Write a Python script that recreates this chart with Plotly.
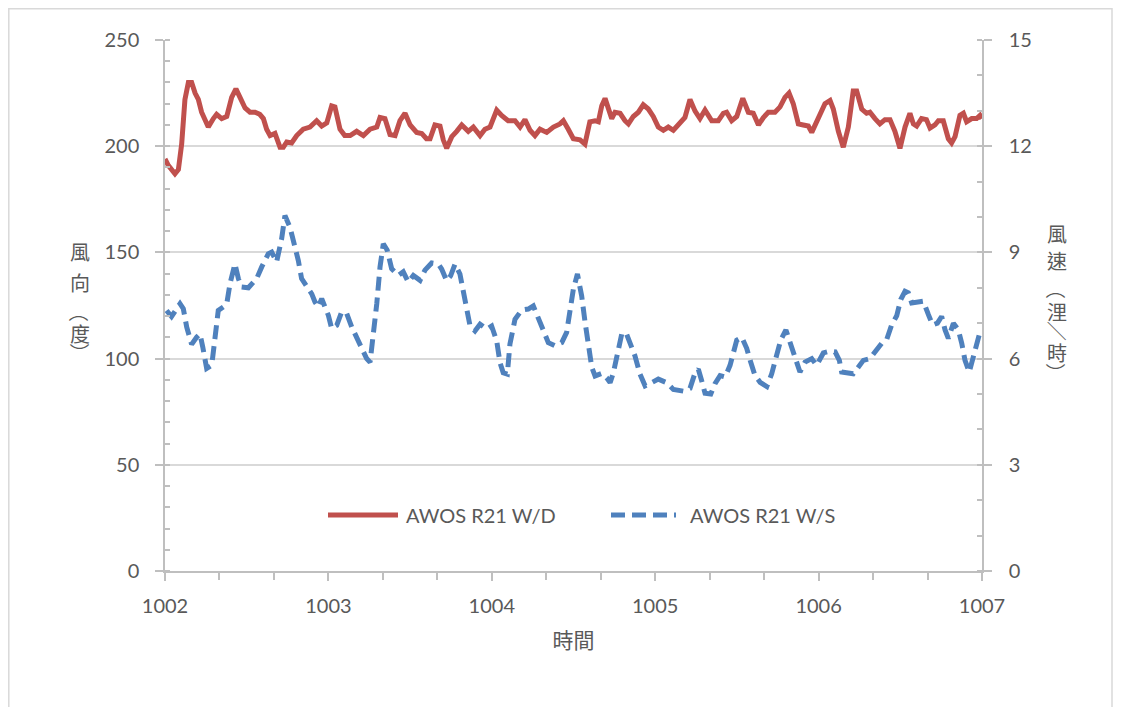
import plotly.graph_objects as go

# 風向 (度) — AWOS R21 W/D, time as days after 1002
wd_t = [0.000, 0.020, 0.061, 0.082, 0.102, 0.122, 0.143, 0.163, 0.184, 0.204,
        0.224, 0.245, 0.265, 0.296, 0.316, 0.347, 0.378, 0.408, 0.434, 0.459,
        0.490, 0.520, 0.551, 0.580, 0.602, 0.622, 0.643, 0.673, 0.704, 0.724,
        0.745, 0.775, 0.806, 0.846, 0.887, 0.928, 0.959, 0.990, 1.020, 1.040,
        1.071, 1.100, 1.133, 1.173, 1.214, 1.255, 1.296, 1.316, 1.346, 1.377,
        1.408, 1.438, 1.469, 1.500, 1.540, 1.571, 1.600, 1.622, 1.652, 1.683,
        1.703, 1.724, 1.755, 1.785, 1.816, 1.856, 1.887, 1.928, 1.958, 1.989,
        2.030, 2.060, 2.100, 2.142, 2.173, 2.203, 2.234, 2.264, 2.295, 2.336,
        2.377, 2.417, 2.438, 2.468, 2.499, 2.540, 2.570, 2.600, 2.632, 2.652,
        2.673, 2.693, 2.713, 2.734, 2.754, 2.785, 2.815, 2.836, 2.866, 2.897,
        2.927, 2.958, 2.988, 3.019, 3.050, 3.080, 3.111, 3.152, 3.182, 3.213,
        3.244, 3.274, 3.305, 3.346, 3.386, 3.417, 3.437, 3.468, 3.499, 3.536,
        3.570, 3.600, 3.632, 3.662, 3.692, 3.733, 3.764, 3.794, 3.819, 3.845,
        3.876, 3.906, 3.937, 3.958, 3.988, 4.009, 4.039, 4.070, 4.090, 4.121,
        4.151, 4.182, 4.212, 4.233, 4.264, 4.294, 4.314, 4.345, 4.375, 4.406,
        4.437, 4.467, 4.498, 4.529, 4.559, 4.580, 4.600, 4.630, 4.660, 4.682,
        4.712, 4.733, 4.763, 4.794, 4.814, 4.835, 4.865, 4.886, 4.906, 4.937,
        4.967, 4.988, 5.000]
wd = [194, 191, 187, 189, 201, 222, 230, 230, 225, 222,
      216, 212, 209, 213, 215, 213, 214, 223, 227, 223,
      218, 216, 216, 215, 213, 208, 205, 206, 199.5, 199.5,
      202, 201.5, 205, 208, 209, 212, 209.5, 211, 219, 218.5,
      208, 205, 205, 207, 205, 208, 209, 213.5, 213, 205.5,
      205, 212, 215.5, 210, 206.5, 206, 203.5, 203.5, 210, 209.5,
      203, 199, 204.5, 207, 210, 207, 209, 205, 208, 209,
      217, 214.5, 212, 212, 209, 212.5, 207.5, 205, 208, 206.5,
      209, 210.5, 212, 208, 203.5, 203, 201, 211.5, 212, 211.5,
      219, 222.5, 217, 213, 216, 215.5, 212, 210.5, 214, 216,
      219.5, 217.5, 214, 209, 207.5, 209, 207.5, 210.5, 213.5, 222,
      216.5, 213, 217, 212, 212, 215.5, 216, 212, 214, 222.5,
      216, 215.5, 210, 213.5, 216, 216, 218.5, 223, 225, 220,
      210.5, 210, 209.5, 206.5, 211.5, 216, 220, 221.5, 217.5, 207,
      199.5, 209, 226, 226, 217.5, 215.5, 216, 213, 210.5, 212.5,
      212.5, 207, 199, 209, 215.5, 210.5, 209.5, 213, 212.5, 208.5,
      210, 212, 212, 203.5, 201.5, 204.5, 214.5, 215.5, 211.5, 213,
      213, 214.5, 213]

# 風速 (浬/時) — AWOS R21 W/S
ws_t = [0.010, 0.040, 0.092, 0.112, 0.133, 0.163, 0.194, 0.214, 0.231, 0.255,
        0.286, 0.306, 0.326, 0.357, 0.378, 0.398, 0.428, 0.449, 0.469, 0.510,
        0.561, 0.592, 0.632, 0.653, 0.683, 0.714, 0.734, 0.765, 0.785, 0.806,
        0.816, 0.836, 0.867, 0.898, 0.918, 0.938, 0.959, 1.000, 1.020, 1.051,
        1.081, 1.112, 1.143, 1.173, 1.204, 1.234, 1.255, 1.275, 1.296, 1.316,
        1.336, 1.360, 1.387, 1.428, 1.458, 1.489, 1.520, 1.561, 1.591, 1.632,
        1.673, 1.693, 1.724, 1.748, 1.775, 1.805, 1.826, 1.846, 1.867, 1.897,
        1.928, 1.969, 1.999, 2.030, 2.050, 2.070, 2.095, 2.111, 2.142, 2.183,
        2.223, 2.254, 2.285, 2.315, 2.346, 2.387, 2.428, 2.458, 2.479, 2.499,
        2.524, 2.550, 2.571, 2.591, 2.612, 2.632, 2.673, 2.703, 2.724, 2.744,
        2.775, 2.795, 2.821, 2.846, 2.876, 2.907, 2.938, 2.978, 3.019, 3.070,
        3.111, 3.172, 3.213, 3.244, 3.264, 3.284, 3.305, 3.340, 3.366, 3.397,
        3.428, 3.458, 3.478, 3.499, 3.530, 3.560, 3.581, 3.611, 3.642, 3.683,
        3.713, 3.744, 3.768, 3.800, 3.825, 3.850, 3.870, 3.886, 3.917, 3.958,
        3.988, 4.029, 4.070, 4.101, 4.127, 4.141, 4.212, 4.243, 4.274, 4.314,
        4.345, 4.386, 4.417, 4.447, 4.478, 4.503, 4.529, 4.549, 4.570, 4.600,
        4.641, 4.672, 4.698, 4.727, 4.753, 4.774, 4.794, 4.825, 4.855, 4.876,
        4.896, 4.922, 4.947, 4.967, 4.988, 5.000]
ws = [7.36, 7.19, 7.55, 7.41, 6.89, 6.40, 6.61, 6.70, 6.33, 5.72,
      5.81, 6.66, 7.36, 7.46, 7.55, 8.12, 8.68, 8.26, 8.02, 8.00,
      8.26, 8.59, 8.96, 9.01, 8.73, 9.39, 10.04, 9.71, 9.39, 9.01,
      8.77, 8.26, 8.02, 7.83, 7.60, 7.46, 7.69, 7.22, 6.85, 6.94,
      7.32, 7.27, 6.89, 6.61, 6.28, 6.00, 5.90, 6.61, 7.55, 8.59,
      9.24, 9.06, 8.54, 8.35, 8.45, 8.16, 8.35, 8.21, 8.50, 8.70,
      8.67, 8.53, 8.20, 8.34, 8.67, 8.39, 7.92, 7.35, 6.92, 6.78,
      6.97, 6.83, 6.92, 6.50, 5.89, 5.60, 5.56, 6.41, 7.11, 7.37,
      7.40, 7.49, 7.16, 6.78, 6.45, 6.36, 6.45, 6.74, 7.44, 7.96,
      8.39, 7.77, 7.02, 6.36, 5.75, 5.51, 5.58, 5.46, 5.32, 5.60,
      6.22, 6.69, 6.74, 6.45, 6.08, 5.56, 5.23, 5.32, 5.42, 5.32,
      5.13, 5.08, 5.16, 5.60, 5.70, 5.38, 5.02, 5.00, 5.29, 5.52,
      5.48, 5.81, 6.14, 6.52, 6.60, 6.29, 5.95, 5.52, 5.33, 5.21,
      5.57, 6.05, 6.52, 6.81, 6.48, 6.10, 5.81, 5.62, 5.90, 6.00,
      5.81, 6.16, 6.21, 6.19, 5.95, 5.62, 5.57, 5.76, 5.95, 6.00,
      6.19, 6.43, 6.54, 6.95, 7.21, 7.67, 7.90, 7.86, 7.57, 7.59,
      7.62, 7.24, 6.95, 7.00, 7.19, 6.81, 6.57, 7.00, 6.81, 6.43,
      5.95, 5.62, 6.05, 6.48, 6.76, 6.81]

START_DAY = 1002
series_names = ["AWOS R21 W/D", "AWOS R21 W/S"]
# vertical titles: (character, rotate 90° like vertical CJK punctuation)
left_title = [("風", False), ("向", False), ("（", True), ("度", False), ("）", True)]
right_title = [("風", False), ("速", False), ("（", True), ("浬", False),
               ("／", True), ("時", False), ("）", True)]

RED = "#C0504D"
BLUE = "#4F81BD"
GRAY_TXT = "#595959"
AXIS_GRAY = "#BFBFBF"
GRID_GRAY = "#D9D9D9"
DASH = "14px,7px"

# page has an 8px body margin, so the figure sits at (8, 8)
OFF = 8
W, H = 1121 - 2 * OFF, 715 - 2 * OFF
PLOT_L, PLOT_R, PLOT_T, PLOT_B = 165, 982, 40, 571   # page pixels
ML, MT = PLOT_L - OFF, PLOT_T - OFF
MR, MB = W - (PLOT_R - OFF), H - (PLOT_B - OFF)
PW, PH = PLOT_R - PLOT_L, PLOT_B - PLOT_T


def px_x(x):
    return (x - PLOT_L) / PW


def px_y(y):
    return (PLOT_B - y) / PH


fig = go.Figure()
fig.add_trace(go.Scatter(
    x=[START_DAY + t for t in wd_t], y=wd, name=series_names[0],
    mode="lines", line=dict(color=RED, width=5), showlegend=False,
))
fig.add_trace(go.Scatter(
    x=[START_DAY + t for t in ws_t], y=ws, name=series_names[1], yaxis="y2",
    mode="lines", line=dict(color=BLUE, width=5, dash=DASH), showlegend=False,
))

# manual legend (long line samples like the Excel original)
fig.add_shape(type="line", xref="paper", yref="paper",
              x0=px_x(328), x1=px_x(398), y0=px_y(515), y1=px_y(515),
              line=dict(color=RED, width=5))
fig.add_shape(type="line", xref="paper", yref="paper",
              x0=px_x(611), x1=px_x(676), y0=px_y(515), y1=px_y(515),
              line=dict(color=BLUE, width=5, dash=DASH))
for name, x0 in zip(series_names, [404, 688]):
    fig.add_annotation(text=name, xref="paper", yref="paper", x=px_x(x0), y=px_y(515),
                       xanchor="left", yanchor="middle", showarrow=False,
                       font=dict(family="Lato", size=20, color=GRAY_TXT))

# vertical CJK axis titles
cjk = dict(family="Noto Sans CJK TC", size=20, color=GRAY_TXT)
for (ch, rot), y in zip(left_title, [252, 282, 312, 333, 353]):
    fig.add_annotation(text=ch, xref="paper", yref="paper", x=px_x(80), y=px_y(y),
                       xanchor="center", yanchor="middle", showarrow=False, font=cjk,
                       borderpad=0, textangle=90 if rot else 0)
for (ch, rot), y in zip(right_title, [233, 260, 289, 311, 331, 352, 373]):
    fig.add_annotation(text=ch, xref="paper", yref="paper", x=px_x(1057), y=px_y(y),
                       xanchor="center", yanchor="middle", showarrow=False, font=cjk,
                       borderpad=0, textangle=90 if rot else 0)

# chart-area border (figure edge is at page (8, 8))
fig.add_shape(type="rect", xref="paper", yref="paper", layer="below",
              x0=px_x(8.8), x1=px_x(1112), y0=px_y(730), y1=px_y(8.8),
              line=dict(color=GRID_GRAY, width=1.5))

fig.update_layout(
    width=W, height=H, autosize=False,
    margin=dict(l=ML, r=MR, t=MT, b=MB, pad=0),
    paper_bgcolor="white", plot_bgcolor="white",
    font=dict(family="Lato", size=20, color=GRAY_TXT),
    xaxis=dict(
        range=[START_DAY, START_DAY + 5], tick0=START_DAY, dtick=1, tickformat="d",
        showgrid=False, zeroline=False, showline=True, linecolor=AXIS_GRAY, linewidth=1.5,
        ticks="outside", ticklen=8, tickcolor=AXIS_GRAY, tickwidth=1.5,
        ticklabelstandoff=8,
        minor=dict(dtick=1 / 3, ticks="outside", ticklen=7, tickcolor=AXIS_GRAY, tickwidth=1.5),
        title=dict(text="時間", standoff=18,
                   font=dict(family="Noto Sans CJK TC", size=21, color=GRAY_TXT)),
    ),
    yaxis=dict(
        range=[0, 250], dtick=50, showgrid=True, gridcolor=GRID_GRAY, gridwidth=1.5,
        zeroline=False, showline=True, linecolor=AXIS_GRAY, linewidth=1.5,
        ticks="outside", ticklen=8, tickcolor=AXIS_GRAY, tickwidth=1.5,
        ticklabelstandoff=12,
        minor=dict(dtick=10, ticks="inside", ticklen=5, tickcolor=AXIS_GRAY, tickwidth=1.5),
    ),
    yaxis2=dict(
        range=[0, 15], dtick=3, overlaying="y", side="right", showgrid=False,
        zeroline=False, showline=True, linecolor=AXIS_GRAY, linewidth=1.5,
        ticks="outside", ticklen=8, tickcolor=AXIS_GRAY, tickwidth=1.5,
        ticklabelstandoff=13,
        minor=dict(dtick=1, ticks="inside", ticklen=5, tickcolor=AXIS_GRAY, tickwidth=1.5),
    ),
)

fig.write_html("out.html")
